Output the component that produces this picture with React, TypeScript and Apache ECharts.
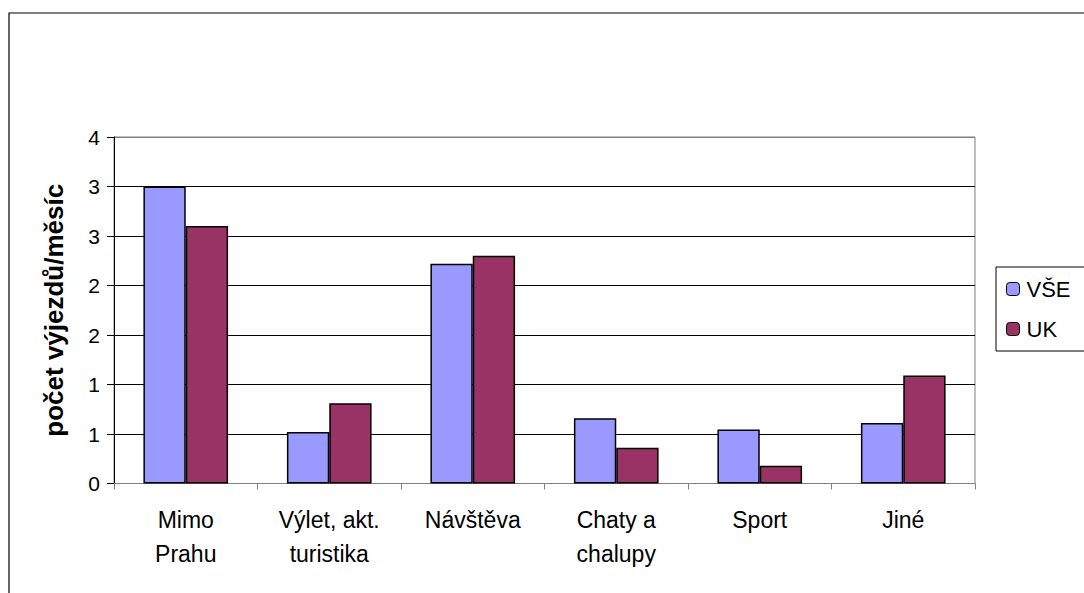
import React, { useEffect, useRef } from "react";
import * as echarts from "echarts";

const categories = ["Mimo\nPrahu", "Výlet, akt.\nturistika", "Návštěva", "Chaty a\nchalupy", "Sport", "Jiné"];
const seriesNames = ["VŠE", "UK"];
const vseValues = [3.0, 0.52, 2.22, 0.66, 0.545, 0.61];
const ukValues = [2.6, 0.81, 2.3, 0.36, 0.18, 1.09];
const yTickLabels = ["0", "1", "1", "2", "2", "3", "3", "4"];
const yAxisTitle = "počet výjezdů/měsíc";

const FONT = "'Liberation Sans', Arial, sans-serif";

export default function App() {
  const ref = useRef<HTMLDivElement>(null);
  useEffect(() => {
    if (!ref.current) return;
    const chart = echarts.init(ref.current, null, { renderer: "svg" });
    chart.setOption({
      animation: false,
      backgroundColor: "#ffffff",
      textStyle: { fontFamily: FONT },
      graphic: [
        {
          type: "rect",
          shape: { x: 9, y: 13, width: 1100, height: 620 },
          style: { fill: "none", stroke: "#000", lineWidth: 1.2 },
          silent: true,
        },
      ],
      grid: {
        left: 114,
        top: 137,
        right: 109,
        bottom: 109.5,
        show: true,
        borderColor: "#808080",
        borderWidth: 1,
        backgroundColor: "transparent",
      },
      legend: {
        orient: "vertical",
        left: 996,
        top: 267,
        data: seriesNames,
        backgroundColor: "#fff",
        borderColor: "#000",
        borderWidth: 1,
        padding: [10, 24, 10, 10],
        itemGap: 16,
        itemWidth: 13,
        itemHeight: 13,
        itemStyle: { borderColor: "#000", borderWidth: 1 },
        textStyle: { fontFamily: FONT, fontSize: 22, lineHeight: 24, color: "#000", padding: [0, 0, 0, 2] },
      },
      xAxis: {
        type: "category",
        data: categories,
        axisLine: { lineStyle: { color: "#808080", width: 1 } },
        axisTick: { show: true, length: 6, lineStyle: { color: "#808080" } },
        axisLabel: {
          color: "#000",
          fontFamily: FONT,
          fontSize: 23,
          lineHeight: 34,
          margin: 19,
          interval: 0,
        },
      },
      yAxis: {
        type: "value",
        min: 0,
        max: 3.5,
        interval: 0.5,
        name: yAxisTitle,
        nameLocation: "middle",
        nameRotate: 90,
        nameGap: 47,
        nameTextStyle: { fontFamily: FONT, fontSize: 26, fontWeight: "bold", color: "#000" },
        axisLine: { show: true, lineStyle: { color: "#000", width: 1 } },
        axisTick: { show: true, length: 7, inside: false, lineStyle: { color: "#000" } },
        axisLabel: {
          color: "#000",
          fontFamily: FONT,
          fontSize: 21,
          margin: 14,
          formatter: (v: number) => yTickLabels[Math.round(v / 0.5)] ?? "",
        },
        splitLine: {
          show: true,
          lineStyle: {
            color: ["#000", "#000", "#000", "#000", "#000", "#000", "#000", "#808080"],
            width: 1,
          },
        },
      },
      series: [
        {
          name: seriesNames[0],
          type: "bar",
          data: vseValues,
          barGap: "0%",
          barCategoryGap: "41%",
          itemStyle: { color: "#9999FF", borderColor: "#000", borderWidth: 1.5 },
        },
        {
          name: seriesNames[1],
          type: "bar",
          data: ukValues,
          barGap: "0%",
          barCategoryGap: "41%",
          itemStyle: { color: "#993366", borderColor: "#000", borderWidth: 1.5 },
        },
      ],
    });
    return () => chart.dispose();
  }, []);
  return (
    <div
      ref={ref}
      style={{ position: "fixed", left: 0, top: 0, width: 1084, height: 593, background: "#fff" }}
    />
  );
}
